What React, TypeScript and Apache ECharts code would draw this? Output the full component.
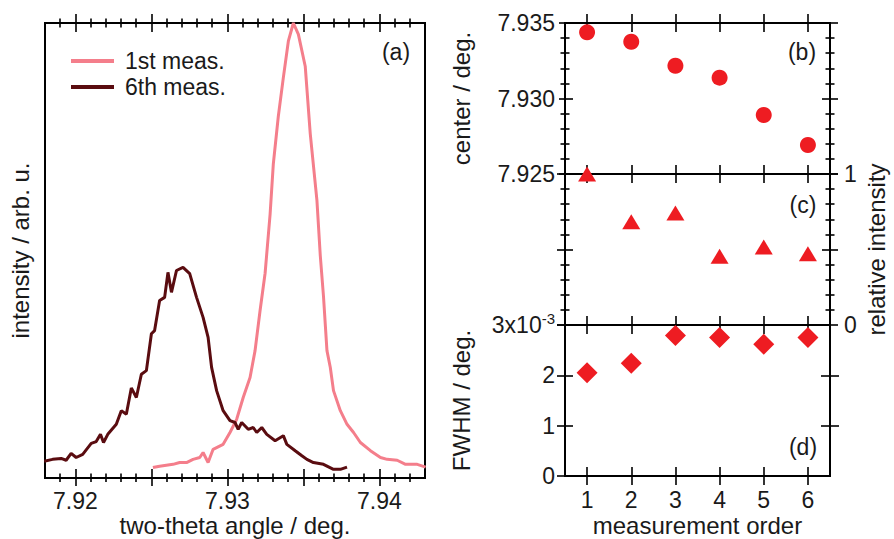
import React, { useEffect, useRef } from "react";
import * as echarts from "echarts";

const FONT = '"Liberation Sans", Arial, Helvetica, sans-serif';
const TXT = "#1a1a1a";
const RED = "#ee1c22";
const PINK = "#f47e8b";
const DARK = "#5a0c10";

// (a) intensity profiles: [two-theta (deg), normalised intensity]
const firstMeas: [number, number][] = [
  [7.9251, 0.023], [7.92554, 0.026], [7.92642, 0.03], [7.92686, 0.034], [7.92731, 0.034],
  [7.92774, 0.041], [7.92818, 0.045], [7.9284, 0.056], [7.92873, 0.034], [7.92906, 0.063],
  [7.92972, 0.074], [7.93017, 0.1], [7.93061, 0.129], [7.93104, 0.177], [7.93149, 0.221],
  [7.93182, 0.28], [7.93215, 0.368], [7.93248, 0.45], [7.93281, 0.58], [7.93302, 0.69],
  [7.93335, 0.795], [7.93368, 0.88], [7.93401, 0.96], [7.93434, 1.0], [7.93467, 0.975],
  [7.93512, 0.905], [7.93545, 0.757], [7.93589, 0.61], [7.93611, 0.489], [7.93632, 0.4],
  [7.93655, 0.28], [7.93677, 0.243], [7.93698, 0.192], [7.93743, 0.148], [7.93787, 0.118],
  [7.9383, 0.1], [7.93875, 0.078], [7.93941, 0.06], [7.94007, 0.045], [7.94051, 0.041],
  [7.94117, 0.039], [7.94172, 0.03], [7.94249, 0.03], [7.94304, 0.024],
];
const sixthMeas: [number, number][] = [
  [7.91795, 0.037], [7.9185, 0.041], [7.91906, 0.043], [7.91939, 0.039], [7.91972, 0.054],
  [7.92005, 0.045], [7.92048, 0.052], [7.92104, 0.076], [7.92137, 0.08], [7.92165, 0.096],
  [7.92185, 0.078], [7.92213, 0.096], [7.92269, 0.118], [7.92302, 0.148], [7.92335, 0.14],
  [7.92368, 0.198], [7.92401, 0.177], [7.92434, 0.228], [7.92467, 0.236], [7.925, 0.317],
  [7.92521, 0.324], [7.92554, 0.39], [7.92587, 0.397], [7.92609, 0.452], [7.92632, 0.408],
  [7.92665, 0.456], [7.92708, 0.463], [7.92752, 0.449], [7.92797, 0.397], [7.9284, 0.353],
  [7.92873, 0.309], [7.92896, 0.243], [7.92929, 0.192], [7.92972, 0.148], [7.93017, 0.126],
  [7.9305, 0.122], [7.93071, 0.107], [7.93094, 0.122], [7.93137, 0.107], [7.9317, 0.111],
  [7.93193, 0.1], [7.93226, 0.111], [7.93259, 0.096], [7.93314, 0.082], [7.93368, 0.093],
  [7.93391, 0.074], [7.93446, 0.06], [7.9349, 0.049], [7.93523, 0.041], [7.93566, 0.034],
  [7.93632, 0.03], [7.93698, 0.019], [7.93743, 0.019], [7.93787, 0.024],
];

// (b)-(d) per measurement
const order = [1, 2, 3, 4, 5, 6];
const centerDeg = [7.93438, 7.93376, 7.93217, 7.93138, 7.92891, 7.92692];
const relIntensity = [1.0, 0.684, 0.742, 0.455, 0.517, 0.472];
const fwhmE3 = [2.05, 2.24, 2.79, 2.75, 2.62, 2.75]; // x10^-3 deg

// ticks
const thetaLabels = [7.92, 7.93, 7.94];
const thetaMajor = [7.92, 7.925, 7.93, 7.935, 7.94];
const thetaMinor = [7.919, 7.921, 7.922, 7.923, 7.924, 7.926, 7.927, 7.928, 7.929, 7.931,
  7.932, 7.933, 7.934, 7.936, 7.937, 7.938, 7.939, 7.941, 7.942];
const centerLabels = [7.925, 7.93, 7.935];
const centerMinor = [7.926, 7.927, 7.928, 7.929, 7.931, 7.932, 7.933, 7.934];
const relMajor = [0, 0.5, 1];
const relLabels = [0, 1];
const relMinor = [0.1, 0.2, 0.3, 0.4, 0.6, 0.7, 0.8, 0.9];
const fwhmLabels = [0, 1, 2, 3];
const fwhmRightTicks = [1, 2];

const labelStyle = { fontSize: 23, lineHeight: 22, fontFamily: FONT, color: TXT };
const nameStyle = { fontSize: 24, lineHeight: 24, fontFamily: FONT, color: TXT };

type Spec = {
  grid: number; pos: string; min: number; max: number; ticks: number[]; len: number;
  inside: boolean; labels?: number[]; fmt?: (v: number) => string; margin?: number;
  name?: string; nameGap?: number; rotate?: number; rich?: any;
};

function axis(s: Spec): any {
  const a: any = {
    type: "value", gridIndex: s.grid, position: s.pos, min: s.min, max: s.max,
    axisLine: { show: true, onZero: false, lineStyle: { color: "#000", width: 2 } },
    axisTick: s.ticks.length
      ? { show: true, customValues: s.ticks, inside: s.inside, length: s.len, lineStyle: { color: "#000", width: 1.6 } }
      : { show: false },
    axisLabel: s.labels
      ? { show: true, customValues: s.labels, formatter: s.fmt, margin: s.margin ?? 12, ...labelStyle, rich: s.rich }
      : { show: false },
    splitLine: { show: false },
    minorTick: { show: false },
  };
  if (s.name) {
    a.name = s.name;
    a.nameLocation = "middle";
    a.nameGap = s.nameGap;
    a.nameMoveOverlap = false;
    if (s.rotate !== undefined) a.nameRotate = s.rotate;
    a.nameTextStyle = nameStyle;
  }
  return a;
}

const App: React.FC = () => {
  const ref = useRef<HTMLDivElement>(null);
  useEffect(() => {
    if (!ref.current) return;
    const chart = echarts.init(ref.current, undefined, { renderer: "svg" });

    const g = { outerBoundsMode: "none", containLabel: false };
    const grids = [
      { ...g, left: 45, top: 23, width: 380, height: 455 },
      { ...g, left: 565, top: 23, width: 265, height: 151 },
      { ...g, left: 565, top: 174, width: 265, height: 151 },
      { ...g, left: 565, top: 325, width: 265, height: 151 },
    ];

    const xAxes: any[] = [];
    const yAxes: any[] = [];
    const tMin = 7.918, tMax = 7.943;
    // panel (a) x axes
    xAxes.push(axis({ grid: 0, pos: "bottom", min: tMin, max: tMax, ticks: thetaMajor, len: 8, inside: false,
      labels: thetaLabels, fmt: (v) => v.toFixed(2), margin: 12, name: "two-theta angle / deg.", nameGap: 35 }));
    xAxes.push(axis({ grid: 0, pos: "bottom", min: tMin, max: tMax, ticks: thetaMajor, len: 9, inside: true }));
    xAxes.push(axis({ grid: 0, pos: "bottom", min: tMin, max: tMax, ticks: thetaMinor, len: 4, inside: false }));
    xAxes.push(axis({ grid: 0, pos: "bottom", min: tMin, max: tMax, ticks: thetaMinor, len: 4.5, inside: true }));
    xAxes.push(axis({ grid: 0, pos: "top", min: tMin, max: tMax, ticks: thetaMajor, len: 9, inside: false }));
    xAxes.push(axis({ grid: 0, pos: "top", min: tMin, max: tMax, ticks: thetaMajor, len: 9, inside: true }));
    xAxes.push(axis({ grid: 0, pos: "top", min: tMin, max: tMax, ticks: thetaMinor, len: 4.5, inside: false }));
    xAxes.push(axis({ grid: 0, pos: "top", min: tMin, max: tMax, ticks: thetaMinor, len: 4.5, inside: true }));
    // panel (a) y axes
    yAxes.push(axis({ grid: 0, pos: "left", min: 0, max: 1, ticks: [], len: 0, inside: false,
      name: "intensity / arb. u.", nameGap: 13, rotate: 90 }));
    yAxes.push(axis({ grid: 0, pos: "right", min: 0, max: 1, ticks: [], len: 0, inside: false }));

    // right panels x axes (order 0.5..6.5)
    const oMin = 0.5, oMax = 6.5;
    const xb = xAxes.length;
    xAxes.push(axis({ grid: 1, pos: "top", min: oMin, max: oMax, ticks: order, len: 9, inside: false }));
    xAxes.push(axis({ grid: 1, pos: "top", min: oMin, max: oMax, ticks: order, len: 9, inside: true }));
    xAxes.push(axis({ grid: 1, pos: "bottom", min: oMin, max: oMax, ticks: order, len: 9, inside: false }));
    xAxes.push(axis({ grid: 1, pos: "bottom", min: oMin, max: oMax, ticks: order, len: 9, inside: true }));
    const xc = xAxes.length;
    xAxes.push(axis({ grid: 2, pos: "bottom", min: oMin, max: oMax, ticks: order, len: 9, inside: false }));
    xAxes.push(axis({ grid: 2, pos: "bottom", min: oMin, max: oMax, ticks: order, len: 9, inside: true }));
    const xd = xAxes.length;
    xAxes.push(axis({ grid: 3, pos: "bottom", min: oMin, max: oMax, ticks: order, len: 9, inside: false,
      labels: order, fmt: (v) => String(v), margin: 13, name: "measurement order", nameGap: 37 }));
    xAxes.push(axis({ grid: 3, pos: "bottom", min: oMin, max: oMax, ticks: order, len: 9, inside: true }));

    // (b) y axes
    const cMin = 7.925, cMax = 7.935;
    const yb = yAxes.length;
    yAxes.push(axis({ grid: 1, pos: "left", min: cMin, max: cMax, ticks: centerLabels, len: 6, inside: false,
      labels: centerLabels, fmt: (v) => v.toFixed(3), margin: 10, name: "center / deg.", nameGap: 92, rotate: 90 }));
    yAxes.push(axis({ grid: 1, pos: "left", min: cMin, max: cMax, ticks: centerLabels, len: 8, inside: true }));
    yAxes.push(axis({ grid: 1, pos: "left", min: cMin, max: cMax, ticks: centerMinor, len: 4.5, inside: false }));
    yAxes.push(axis({ grid: 1, pos: "left", min: cMin, max: cMax, ticks: centerMinor, len: 4.5, inside: true }));
    yAxes.push(axis({ grid: 1, pos: "right", min: cMin, max: cMax, ticks: centerLabels, len: 8, inside: false }));
    yAxes.push(axis({ grid: 1, pos: "right", min: cMin, max: cMax, ticks: centerLabels, len: 8, inside: true }));
    yAxes.push(axis({ grid: 1, pos: "right", min: cMin, max: cMax, ticks: centerMinor, len: 4.5, inside: false }));
    yAxes.push(axis({ grid: 1, pos: "right", min: cMin, max: cMax, ticks: centerMinor, len: 4.5, inside: true }));

    // (c) y axes
    const yc = yAxes.length;
    yAxes.push(axis({ grid: 2, pos: "right", min: 0, max: 1, ticks: relMajor, len: 8, inside: false,
      labels: relLabels, fmt: (v) => String(v), margin: 14, name: "relative intensity", nameGap: 34, rotate: 90 }));
    yAxes.push(axis({ grid: 2, pos: "right", min: 0, max: 1, ticks: relMajor, len: 8, inside: true }));
    yAxes.push(axis({ grid: 2, pos: "right", min: 0, max: 1, ticks: relMinor, len: 4.5, inside: false }));
    yAxes.push(axis({ grid: 2, pos: "right", min: 0, max: 1, ticks: relMinor, len: 4.5, inside: true }));
    yAxes.push(axis({ grid: 2, pos: "left", min: 0, max: 1, ticks: relMajor, len: 8, inside: false }));
    yAxes.push(axis({ grid: 2, pos: "left", min: 0, max: 1, ticks: relMajor, len: 8, inside: true }));
    yAxes.push(axis({ grid: 2, pos: "left", min: 0, max: 1, ticks: relMinor, len: 4.5, inside: false }));
    yAxes.push(axis({ grid: 2, pos: "left", min: 0, max: 1, ticks: relMinor, len: 4.5, inside: true }));

    // (d) y axes
    const yd = yAxes.length;
    yAxes.push(axis({ grid: 3, pos: "left", min: 0, max: 3, ticks: fwhmLabels, len: 8, inside: false,
      labels: fwhmLabels, fmt: (v) => (v === 3 ? "3x10{sup|-3}" : String(v)), margin: 10,
      rich: { sup: { fontSize: 15, fontFamily: FONT, color: TXT, padding: [0, 0, 14, 0] } },
      name: "FWHM / deg.", nameGap: 92, rotate: 90 }));
    yAxes.push(axis({ grid: 3, pos: "left", min: 0, max: 3, ticks: fwhmLabels, len: 8, inside: true }));
    yAxes.push(axis({ grid: 3, pos: "right", min: 0, max: 3, ticks: fwhmRightTicks, len: 9, inside: false }));
    yAxes.push(axis({ grid: 3, pos: "right", min: 0, max: 3, ticks: fwhmRightTicks, len: 9, inside: true }));

    const panelText = (t: string, x: number, y: number) => ({
      type: "text", x, y,
      style: { text: t, fontSize: 23, fontFamily: FONT, fill: TXT, align: "center", verticalAlign: "middle" },
    });

    chart.setOption({
      animation: false,
      backgroundColor: "#fff",
      grid: grids,
      xAxis: xAxes,
      yAxis: yAxes,
      legend: {
        data: ["1st meas.", "6th meas."],
        left: 66, top: 43, orient: "vertical", icon: "rect", itemWidth: 43, itemHeight: 4, itemGap: 0,
        selectedMode: false,
        textStyle: { fontSize: 23, fontFamily: FONT, color: TXT, lineHeight: 26, padding: [0, 0, 0, 6] },
      },
      graphic: [
        panelText("(a)", 396, 52),
        panelText("(b)", 802, 52),
        panelText("(c)", 803, 205),
        panelText("(d)", 803, 447),
      ],
      series: [
        {
          name: "1st meas.", type: "line", xAxisIndex: 0, yAxisIndex: 0, data: firstMeas,
          showSymbol: false, lineStyle: { color: PINK, width: 3 }, itemStyle: { color: PINK },
        },
        {
          name: "6th meas.", type: "line", xAxisIndex: 0, yAxisIndex: 0, data: sixthMeas,
          showSymbol: false, lineStyle: { color: DARK, width: 3 }, itemStyle: { color: DARK },
        },
        {
          type: "scatter", xAxisIndex: xb, yAxisIndex: yb, clip: false,
          data: order.map((o, i) => [o, centerDeg[i]]),
          symbol: "circle", symbolSize: 16, itemStyle: { color: RED, opacity: 1 },
        },
        {
          type: "scatter", xAxisIndex: xc, yAxisIndex: yc, clip: false,
          data: order.map((o, i) => [o, relIntensity[i]]),
          symbol: "triangle", symbolSize: [18, 15], itemStyle: { color: RED, opacity: 1 },
        },
        {
          type: "scatter", xAxisIndex: xd, yAxisIndex: yd, clip: false,
          data: order.map((o, i) => [o, fwhmE3[i]]),
          symbol: "diamond", symbolSize: [21, 21], itemStyle: { color: RED, opacity: 1 },
        },
      ],
    });
    return () => chart.dispose();
  }, []);
  return (
    <div
      ref={ref}
      style={{ position: "fixed", left: 0, top: 0, width: 894, height: 539, background: "#fff" }}
    />
  );
};

export default App;
